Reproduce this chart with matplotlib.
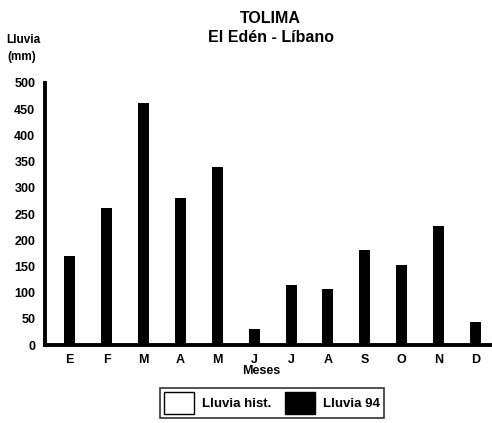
import numpy as np
import matplotlib.pyplot as plt
from matplotlib.patches import Patch

plt.rcParams['font.family'] = ['Liberation Sans', 'DejaVu Sans']
plt.rcParams['font.weight'] = 'bold'

meses = ['E', 'F', 'M', 'A', 'M', 'J', 'J', 'A', 'S', 'O', 'N', 'D']
lluvia_94 = [170, 261, 462, 281, 339, 30, 114, 107, 181, 152, 228, 44]
yticks = [0, 50, 100, 150, 200, 250, 300, 350, 400, 450, 500]

fig = plt.figure(figsize=(4.92, 4.23), dpi=100)
ax = fig.add_axes([0.0915, 0.184, 0.905, 0.62])
x = np.arange(len(meses))
ax.bar(x, lluvia_94, width=0.3, color='black')

ax.set_xlim(-0.67, 11.4)
ax.set_ylim(0, 500)
ax.set_yticks(yticks)
ax.set_xticks(x)
ax.set_xticklabels(meses, fontsize=9, fontweight='bold')
for lab in ax.get_yticklabels():
    lab.set_fontsize(9)
    lab.set_fontweight('bold')
ax.tick_params(length=0, pad=7)
ax.tick_params(axis='x', pad=6)
ax.spines['top'].set_visible(False)
ax.spines['right'].set_visible(False)
ax.spines['left'].set_linewidth(2.8)
ax.spines['bottom'].set_linewidth(2.8)

fig.text(0.55, 0.957, 'TOLIMA', ha='center', va='center', fontsize=11.5, fontweight='bold')
fig.text(0.55, 0.912, 'El Edén - Líbano', ha='center', va='center', fontsize=11.5, fontweight='bold')
fig.text(0.012, 0.905, 'Lluvia', ha='left', va='center', fontsize=8.5, fontweight='bold')
fig.text(0.015, 0.866, '(mm)', ha='left', va='center', fontsize=8.5, fontweight='bold')
fig.text(0.53, 0.124, 'Meses', ha='center', va='center', fontsize=9, fontweight='bold')

handles = [Patch(facecolor='white', edgecolor='black', label='Lluvia hist.'),
           Patch(facecolor='black', edgecolor='black', label='Lluvia 94')]
leg = fig.legend(handles=handles, loc='center', bbox_to_anchor=(0.553, 0.048), ncol=2,
                 frameon=True, fancybox=False, edgecolor='black', fontsize=9.5,
                 handlelength=2.3, handleheight=2.2, columnspacing=1.0,
                 borderpad=0.3, handletextpad=0.6)
leg.get_frame().set_linewidth(1.2)

plt.savefig('out.png', dpi=100)
